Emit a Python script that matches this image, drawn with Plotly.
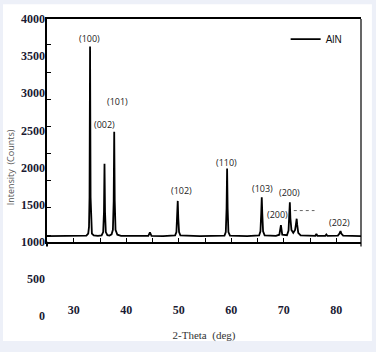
import plotly.graph_objects as go

# XRD pattern of AlN (2-theta in deg, intensity in counts)
two_theta = [24.9, 28.0, 31.0, 32.4, 32.75, 32.9, 33.0, 33.1, 33.2, 33.3, 33.45, 33.8, 34.6,
             35.3, 35.6, 35.75, 35.85, 35.95, 36.1, 36.4, 36.8,
             37.2, 37.45, 37.6, 37.7, 37.8, 37.95, 38.3, 39.0, 42.0,
             44.2, 44.5, 44.8, 47.0,
             49.3, 49.55, 49.7, 49.8, 49.9, 50.05, 50.3, 54.0,
             58.7, 58.95, 59.1, 59.2, 59.3, 59.45, 59.75, 63.0,
             65.3, 65.55, 65.7, 65.8, 65.9, 66.05, 66.35, 68.5,
             69.15, 69.45, 69.7, 70.6, 70.9, 71.05, 71.15, 71.25, 71.45, 71.8,
             72.15, 72.3, 72.45, 72.55, 72.75, 73.2, 75.0,
             76.0, 76.2, 76.4, 77.9, 78.1, 78.3,
             80.3, 80.6, 80.8, 80.95, 81.3, 83.0, 84.7]
intensity = [1075, 1078, 1076, 1082, 1110, 1200, 1600, 3630, 1600, 1200, 1110, 1085, 1078,
             1085, 1130, 1400, 2050, 1400, 1130, 1090, 1085,
             1100, 1160, 1550, 2480, 1550, 1160, 1095, 1080, 1078,
             1080, 1125, 1080, 1077,
             1085, 1130, 1320, 1550, 1320, 1130, 1085, 1076,
             1082, 1130, 1450, 1985, 1450, 1130, 1082, 1077,
             1085, 1140, 1380, 1600, 1380, 1140, 1085, 1080,
             1095, 1225, 1095, 1088, 1150, 1320, 1530, 1320, 1160, 1120,
             1160, 1230, 1310, 1230, 1120, 1085, 1078,
             1080, 1105, 1080, 1080, 1098, 1080,
             1082, 1110, 1145, 1110, 1082, 1078, 1076]

# peak labels (text, 2-theta, counts)
peak_text = ["(100)", "(101)", "(002)", "(102)", "(110)", "(103)", "(200)", "(200)", "(202)"]
peak_x = [33.0, 38.3, 35.8, 50.6, 59.06, 65.85, 71.13, 68.8, 80.57]
peak_y = [3741, 2884, 2585, 1688, 2069, 1714, 1666, 1364, 1264]

y_ticks = [0, 500, 1000, 1500, 2000, 2500, 3000, 3500, 4000]
x_ticks = [30, 40, 50, 60, 70, 80]

LABEL_FONT = dict(family="Liberation Serif", size=12, color="#1a1a33", weight="bold")
PEAK_FONT = dict(family="Open Sans", size=9, color="#222222")

fig = go.Figure()
fig.add_trace(go.Scatter(x=two_theta, y=intensity, mode="lines", name="AlN",
                         line=dict(color="black", width=1.8)))
# invisible helper so the full-height count axis (0-4000) is drawn
fig.add_trace(go.Scatter(x=[two_theta[0]], y=[y_ticks[0]], yaxis="y2", mode="markers",
                         marker=dict(opacity=0), showlegend=False, hoverinfo="skip"))

for t, x, y in zip(peak_text, peak_x, peak_y):
    fig.add_annotation(x=x, y=y, xref="x", yref="y", text=t, showarrow=False, font=PEAK_FONT)

# dashed marker next to the second (200) label
fig.add_shape(type="line", xref="x", yref="y", x0=71.9, x1=75.85, y0=1420, y1=1420,
              line=dict(color="#666666", width=1, dash="3px,3px"))

# white page with a light strip at right and bottom
fig.add_shape(type="rect", xref="paper", yref="paper", x0=-0.14, x1=1.0347, y0=-0.0844, y1=1.05,
              fillcolor="white", line=dict(width=0), layer="below")
# right frame line (thin) and left/right extensions below the bottom axis
fig.add_shape(type="line", xref="paper", yref="paper", x0=1, x1=1, y0=0.234, y1=1,
              line=dict(color="black", width=1.2))
fig.add_shape(type="line", xref="paper", yref="paper", x0=0, x1=0, y0=0.234, y1=0.25,
              line=dict(color="black", width=2))

fig.update_layout(
    width=376, height=352,
    margin=dict(l=44, r=15, t=12, b=32),
    paper_bgcolor="#EDF0F8", plot_bgcolor="rgba(0,0,0,0)",
    showlegend=True,
    legend=dict(x=0.76, y=0.932, xanchor="left", yanchor="middle", bgcolor="rgba(0,0,0,0)",
                font=dict(family="Liberation Sans", size=10, color="#111111")),
    xaxis=dict(range=[24.9, 84.7], anchor="y", showline=True, linewidth=2, linecolor="black",
               mirror=True, showgrid=False, zeroline=False,
               tickmode="array", tickvals=x_ticks, ticks="inside", ticklen=4, tickwidth=1.2,
               tickcolor="black", tickfont=LABEL_FONT, ticklabelstandoff=56,
               minor=dict(dtick=5, tick0=25, ticks="inside", ticklen=4, tickwidth=1.2,
                          tickcolor="black", showgrid=False),
               title=dict(text="2-Theta  (deg)", standoff=15,
                          font=dict(family="Liberation Serif", size=11, color="#333333"))),
    yaxis=dict(domain=[0.25, 1], range=[1000, 4000], anchor="x", showline=True, linewidth=2,
               linecolor="black", mirror=False, showgrid=False, zeroline=False,
               showticklabels=False, tickmode="linear", tick0=1090, dtick=366,
               ticks="inside", ticklen=4, tickwidth=1.2, tickcolor="black"),
    yaxis2=dict(domain=[0, 1], range=[0, 4000], anchor="free", position=0, showline=False,
                showgrid=False, zeroline=False, tickmode="array", tickvals=y_ticks,
                ticks="", tickfont=LABEL_FONT, ticklabelstandoff=2,
                title=dict(text="Intensity  (Counts)", standoff=3,
                           font=dict(family="Open Sans", size=9, color="#555555"))),
)

fig.write_html("out.html")
